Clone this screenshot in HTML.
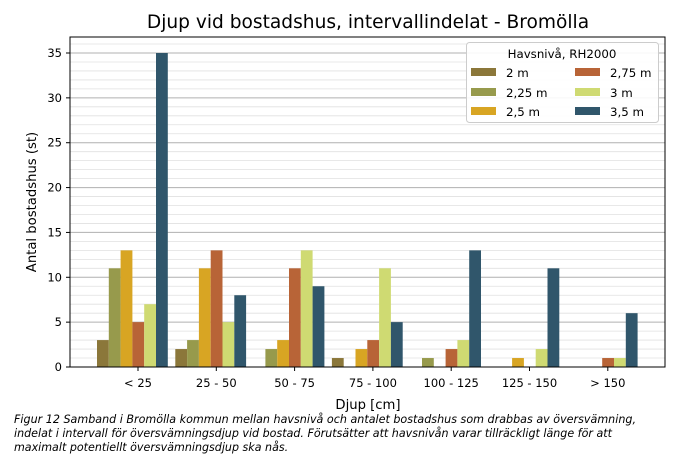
<!DOCTYPE html>
<html><head><meta charset="utf-8"><style>
body{margin:0;background:#fff;}
svg{display:block;font-family:"DejaVu Sans","Liberation Sans",sans-serif;}
</style></head><body>
<svg id="s" width="700" height="459" xmlns="http://www.w3.org/2000/svg">
<rect width="700" height="459" fill="#fff"/>
<g id="grid"></g><g id="bars"></g>
<rect x="70" y="37" width="595" height="330" fill="none" stroke="#000" stroke-width="1"/>
<g id="ticks" font-size="11.5"></g>
<text x="368" y="28" font-size="18.6" text-anchor="middle">Djup vid bostadshus, intervallindelat - Bromölla</text>
<text x="368" y="409" font-size="13.2" text-anchor="middle">Djup [cm]</text>
<text transform="translate(36,202) rotate(-90)" font-size="13.2" text-anchor="middle">Antal bostadshus (st)</text>
<g font-size="11.1" font-style="italic">
<text x="14" y="423" textLength="622" lengthAdjust="spacingAndGlyphs">Figur 12 Samband i Bromölla kommun mellan havsnivå och antalet bostadshus som drabbas av översvämning,</text>
<text x="14" y="437">indelat i intervall för översvämningsdjup vid bostad. Förutsätter att havsnivån varar tillräckligt länge för att</text>
<text x="14" y="451">maximalt potentiellt översvämningsdjup ska nås.</text>
</g>
<g>
<rect x="466.5" y="42.5" width="192" height="80" rx="3" fill="#fff" fill-opacity="0.9" stroke="#ccc"/>
<text x="562" y="58" font-size="11.8" text-anchor="middle">Havsnivå, RH2000</text>
<g font-size="11.8">
<rect x="471" y="68" width="25" height="8" fill="#8b773a"/><text x="506" y="77">2 m</text>
<rect x="471" y="88" width="25" height="8" fill="#979a4c"/><text x="506" y="97">2,25 m</text>
<rect x="471" y="107" width="25" height="8" fill="#d8a523"/><text x="506" y="116">2,5 m</text>
<rect x="575" y="68" width="25" height="8" fill="#b86437"/><text x="610" y="77">2,75 m</text>
<rect x="575" y="88" width="25" height="8" fill="#cfda72"/><text x="610" y="97">3 m</text>
<rect x="575" y="107" width="25" height="8" fill="#30566b"/><text x="610" y="116">3,5 m</text>
</g></g>
</svg>
<script>
const NS="http://www.w3.org/2000/svg";
function el(p,t,a,txt){const e=document.createElementNS(NS,t);for(const k in a)e.setAttribute(k,a[k]);if(txt!=null)e.textContent=txt;document.getElementById(p).appendChild(e);}
const y0=367,u=(367-53)/35;
for(let v=0;v<=36;v++){const y=y0-v*u;el("grid","line",{x1:70,x2:665,y1:y,y2:y,stroke:v%5==0?"#b0b0b0":"#e0e0e0","stroke-width":v%5==0?1:0.8});}
for(let v=0;v<=35;v+=5){const y=y0-v*u;el("ticks","line",{x1:66,x2:70,y1:y,y2:y,stroke:"#000"});el("ticks","text",{x:62,y:y+4,"text-anchor":"end"},v);}
const cols=["#8b773a","#979a4c","#d8a523","#b86437","#cfda72","#30566b"];
const data=[[3,11,13,5,7,35],[2,3,11,13,5,8],[0,2,3,11,13,9],[1,0,2,3,11,5],[0,1,0,2,3,13],[0,0,1,0,2,11],[0,0,0,1,1,6]];
const labs=["< 25","25 - 50","50 - 75","75 - 100","100 - 125","125 - 150","> 150"];
const sp=78.3,bw=11.8;
data.forEach((g,i)=>{const gx=97+i*sp;g.forEach((v,j)=>{if(v>0)el("bars","rect",{x:gx+j*bw,y:y0-v*u,width:bw,height:v*u,fill:cols[j]});});
const cx=138+i*sp;el("ticks","line",{x1:cx,x2:cx,y1:367,y2:371,stroke:"#000"});el("ticks","text",{x:cx,y:387,"text-anchor":"middle"},labs[i]);});
</script>
</body></html>
